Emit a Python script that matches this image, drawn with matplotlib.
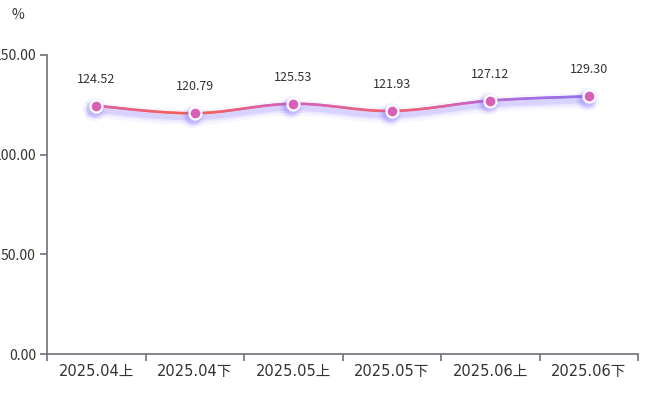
import matplotlib
matplotlib.use('Agg')
import matplotlib.pyplot as plt
import matplotlib.patheffects as pe
from matplotlib.collections import LineCollection
from matplotlib.colors import LinearSegmentedColormap
import numpy as np

plt.rcParams['font.family'] = ['Noto Sans CJK SC', 'DejaVu Sans']

categories = ['2025.04上', '2025.04下', '2025.05上', '2025.05下', '2025.06上', '2025.06下']
values = [124.52, 120.79, 125.53, 121.93, 127.12, 129.30]
y_ticks = [0, 50, 100, 150]


def smooth_curve(x, y, k=0.35, n=40):
    # bezier curve through the points (like echarts smooth line)
    x = np.asarray(x, float)
    y = np.asarray(y, float)
    xs, ys = [], []
    for i in range(len(x) - 1):
        p0 = np.array([x[max(i - 1, 0)], y[max(i - 1, 0)]])
        p1 = np.array([x[i], y[i]])
        p2 = np.array([x[i + 1], y[i + 1]])
        p3 = np.array([x[min(i + 2, len(x) - 1)], y[min(i + 2, len(x) - 1)]])
        c1 = p1 + (p2 - p0) * k / 2
        c2 = p2 - (p3 - p1) * k / 2
        t = np.linspace(0, 1, n)[:, None]
        pts = ((1 - t) ** 3) * p1 + 3 * ((1 - t) ** 2) * t * c1 + 3 * (1 - t) * t ** 2 * c2 + t ** 3 * p2
        xs.extend(pts[:, 0])
        ys.extend(pts[:, 1])
    return np.array(xs), np.array(ys)


fig = plt.figure(figsize=(6.45, 3.94), dpi=100)
ax = fig.add_axes([47 / 645, 40 / 394, 591 / 645, 299 / 394])

x = np.arange(len(categories))
sx, sy = smooth_curve(x, values)

# soft glow under the line
glow = '#7f66ff'
ax.plot(sx, sy, color='none', lw=0,
        path_effects=[pe.SimpleLineShadow(offset=(-1.5, -3), shadow_color=glow, alpha=0.06, linewidth=11),
                      pe.SimpleLineShadow(offset=(-1.5, -3), shadow_color=glow, alpha=0.10, linewidth=7),
                      pe.SimpleLineShadow(offset=(-1.5, -3), shadow_color=glow, alpha=0.16, linewidth=4)])

# gradient line (low values red, high values purple)
cmap = LinearSegmentedColormap.from_list('line', ['#f5605a', '#d862b0', '#9470f0'])
pts = np.column_stack([sx, sy]).reshape(-1, 1, 2)
segs = np.concatenate([pts[:-1], pts[1:]], axis=1)
lc = LineCollection(segs, cmap=cmap, norm=plt.Normalize(min(values), max(values)), linewidth=1.9,
                    capstyle='round', zorder=3)
lc.set_array((sy[:-1] + sy[1:]) / 2)
ax.add_collection(lc)

# marker glow
shift = ax.transData + matplotlib.transforms.ScaledTranslation(-1.5 / 72, -2 / 72, fig.dpi_scale_trans)
for a, ms in [(0.08, 17), (0.14, 13.5), (0.2, 11)]:
    ax.plot(x, values, 'o', markersize=ms, markeredgewidth=0, color=glow, alpha=a, zorder=3, transform=shift)
ax.plot(x, values, 'o', markersize=8.6, markerfacecolor='#d85fb8', markeredgecolor='white',
        markeredgewidth=1.6, zorder=4)

for xi, v in zip(x, values):
    ax.annotate(f'{v:.2f}', (xi, v), xytext=(0, 19), textcoords='offset points',
                ha='center', va='center', fontsize=9, color='#333333')

ax.set_xlim(-0.5, len(categories) - 0.5)
ax.set_ylim(0, 150)
ax.set_yticks(y_ticks)
ax.set_yticklabels([f'{t:.2f}' for t in y_ticks], fontsize=10, color='#333333')
ax.set_xticks(np.arange(-0.5, len(categories)), labels=[])
ax.set_xticks(x, labels=categories, minor=True)
for lab in ax.get_xticklabels(minor=True):
    lab.set_fontfamily(['DejaVu Sans', 'Noto Sans CJK SC'])
ax.tick_params(axis='x', which='minor', length=0, pad=7, labelsize=10.5, labelcolor='#333333')
ax.tick_params(axis='x', which='major', length=5, width=1.2, color='#6e7079')
ax.tick_params(axis='y', length=5, width=1.2, color='#6e7079', pad=3)

for s in ['top', 'right']:
    ax.spines[s].set_visible(False)
for s in ['left', 'bottom']:
    ax.spines[s].set_color('#6e7079')
    ax.spines[s].set_linewidth(1.2)

fig.text(12 / 645, 1 - 15 / 394, '%', fontsize=10, color='#333333', va='center')

fig.savefig('out.png', dpi=100)
